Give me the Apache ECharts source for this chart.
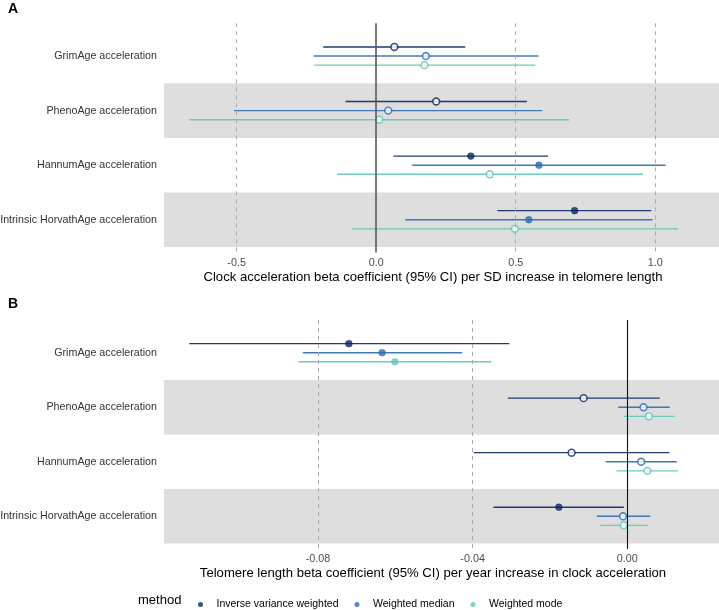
<!DOCTYPE html>
<html>
<head>
<meta charset="utf-8">
<script src="https://cdn.jsdelivr.net/npm/echarts@6/dist/echarts.min.js"></script>
<style>
html,body{margin:0;padding:0;background:#fff;}
#chart{width:719px;height:610px;}
</style>
</head>
<body>
<div id="chart"></div>
<script>
// ---------- DATA ----------
const categories = ['GrimAge acceleration', 'PhenoAge acceleration', 'HannumAge acceleration', 'Intrinsic HorvathAge acceleration'];
const methods = ['Inverse variance weighted', 'Weighted median', 'Weighted mode'];

// Panel A: clock acceleration beta per SD increase in telomere length
const aIvwEst  = [0.065, 0.215, 0.339, 0.711];
const aIvwLow  = [-0.190, -0.110, 0.062, 0.434];
const aIvwUp   = [0.319, 0.540, 0.616, 0.986];
const aMedEst  = [0.178, 0.043, 0.583, 0.547];
const aMedLow  = [-0.225, -0.509, 0.129, 0.104];
const aMedUp   = [0.581, 0.595, 1.037, 0.990];
const aModeEst = [0.173, 0.011, 0.407, 0.497];
const aModeLow = [-0.222, -0.670, -0.140, -0.086];
const aModeUp  = [0.570, 0.692, 0.956, 1.081];

// Panel B: telomere length beta per year increase in clock acceleration
const bIvwEst  = [-0.0720, -0.0113, -0.0144, -0.0177];
const bIvwLow  = [-0.1133, -0.0309, -0.0397, -0.0346];
const bIvwUp   = [-0.0305, 0.0084, 0.0109, -0.0009];
const bMedEst  = [-0.0634, 0.0042, 0.0036, -0.0011];
const bMedLow  = [-0.0839, -0.0024, -0.0056, -0.0079];
const bMedUp   = [-0.0427, 0.0110, 0.0128, 0.0059];
const bModeEst = [-0.0601, 0.0056, 0.0052, -0.0009];
const bModeLow = [-0.0850, -0.0009, -0.0028, -0.0070];
const bModeUp  = [-0.0352, 0.0122, 0.0131, 0.0053];

const aTicks = [-0.5, 0.0, 0.5, 1.0];
const bTicks = [-0.08, -0.04, 0.00];
const aDashed = [-0.5, 0.5, 1.0];
const bDashed = [-0.08, -0.04];

// ---------- STYLE ----------
const colors = ['#0B2762', '#2C6CB4', '#5FC5B5'];
const dodge = [-1/6, 0, 1/6];
const FONT = 'Liberation Sans, Arial, Helvetica, sans-serif';
const bandColor = '#DEDEDE';

const chart = echarts.init(document.getElementById('chart'), null, {renderer: 'canvas'});

const panels = [
  {est: [aIvwEst, aMedEst, aModeEst], low: [aIvwLow, aMedLow, aModeLow], up: [aIvwUp, aMedUp, aModeUp],
   ticks: aTicks, dashed: aDashed, dec: 1, zeroColor: '#5a5a5a', zeroWidth: 1.6,
   min: -0.7604, max: 1.2284, top: 23.3, height: 229.2,
   name: 'Clock acceleration beta coefficient (95% CI) per SD increase in telomere length'},
  {est: [bIvwEst, bMedEst, bModeEst], low: [bIvwLow, bMedLow, bModeLow], up: [bIvwUp, bMedUp, bModeUp],
   ticks: bTicks, dashed: bDashed, dec: 2, zeroColor: '#111111', zeroWidth: 1.1,
   min: -0.11982, max: 0.02372, top: 320.0, height: 229.0,
   name: 'Telomere length beta coefficient (95% CI) per year increase in clock acceleration'}
];

const grids = [], xAxes = [], yAxes = [], series = [];
panels.forEach((p, pi) => {
  grids.push({left: 164, right: 0, top: p.top, height: p.height, containLabel: false, outerBoundsMode: 'none'});
  xAxes.push({
    type: 'value', gridIndex: pi, min: p.min, max: p.max,
    axisLine: {show: false}, axisTick: {show: false}, splitLine: {show: false},
    axisLabel: {customValues: p.ticks, formatter: v => v.toFixed(p.dec), color: '#4D4D4D', fontSize: 10.8, fontFamily: FONT, margin: 5},
    name: p.name, nameLocation: 'middle', nameGap: 18,
    nameTextStyle: {color: '#000', fontSize: 13.1, fontFamily: FONT, padding: [0, 17, 0, 0]}
  });
  yAxes.push({
    type: 'value', gridIndex: pi, min: 0.4, max: 4.6, inverse: true,
    axisLine: {show: false}, axisTick: {show: false}, splitLine: {show: false},
    axisLabel: {customValues: [1, 2, 3, 4], formatter: v => categories[Math.round(v) - 1] || '', color: '#333333', fontSize: 10.7, fontFamily: FONT, margin: 7}
  });
  // background bands + reference lines
  series.push({
    type: 'line', xAxisIndex: pi, yAxisIndex: pi, data: [], silent: true, z: 1,
    markArea: {silent: true, itemStyle: {color: bandColor}, data: [[{yAxis: 1.5}, {yAxis: 2.5}], [{yAxis: 3.5}, {yAxis: 4.5}]]},
    markLine: {silent: true, symbol: 'none', label: {show: false},
      data: p.dashed.map(v => ({xAxis: v, lineStyle: {color: '#AAAAAA', width: 1, type: [4, 4]}}))
        .concat([{xAxis: 0, lineStyle: {color: p.zeroColor, width: p.zeroWidth, type: 'solid'}}])}
  });
  methods.forEach((m, mi) => {
    const ci = categories.map((c, ci2) => [p.low[mi][ci2], p.up[mi][ci2], ci2 + 1 + dodge[mi]]);
    series.push({
      type: 'custom', name: m + ' CI', xAxisIndex: pi, yAxisIndex: pi, z: 3, silent: true,
      encode: {x: [0, 1], y: 2},
      data: ci,
      renderItem: (params, api) => {
        const y = api.value(2);
        const a = api.coord([api.value(0), y]);
        const b = api.coord([api.value(1), y]);
        return {type: 'line', shape: {x1: a[0], y1: a[1], x2: b[0], y2: b[1]},
          style: {stroke: colors[mi], lineWidth: 1.4, opacity: 0.9}};
      }
    });
    series.push({
      type: 'scatter', name: m, xAxisIndex: pi, yAxisIndex: pi, z: 4,
      symbol: 'circle', symbolSize: 6.8,
      itemStyle: {color: colors[mi]},
      data: categories.map((c, ci2) => {
        const sig = p.low[mi][ci2] > 0 || p.up[mi][ci2] < 0;
        return {value: [p.est[mi][ci2], ci2 + 1 + dodge[mi]],
          itemStyle: sig ? {color: colors[mi], borderColor: colors[mi], borderWidth: 0.5}
                         : {color: '#FFFFFF', borderColor: colors[mi], borderWidth: 1.6}};
      })
    });
  });
});

chart.setOption({
  animation: false,
  backgroundColor: '#FFFFFF',
  grid: grids, xAxis: xAxes, yAxis: yAxes, series: series,
  legend: {
    data: methods, left: 193, top: 594, orient: 'horizontal',
    icon: 'circle', itemWidth: 14, itemHeight: 5, itemGap: 16,
    selectedMode: false,
    textStyle: {fontSize: 10.5, fontFamily: FONT, color: '#000', padding: [0, 0, 0, 4]}
  },
  graphic: [
    {type: 'text', left: 8, top: 2, style: {text: 'A', font: 'bold 14px ' + FONT, fill: '#000'}},
    {type: 'text', left: 8, top: 297, style: {text: 'B', font: 'bold 14px ' + FONT, fill: '#000'}},
    {type: 'text', left: 138, top: 594, style: {text: 'method', font: '13px ' + FONT, fill: '#000'}}
  ]
});
</script>
</body>
</html>
